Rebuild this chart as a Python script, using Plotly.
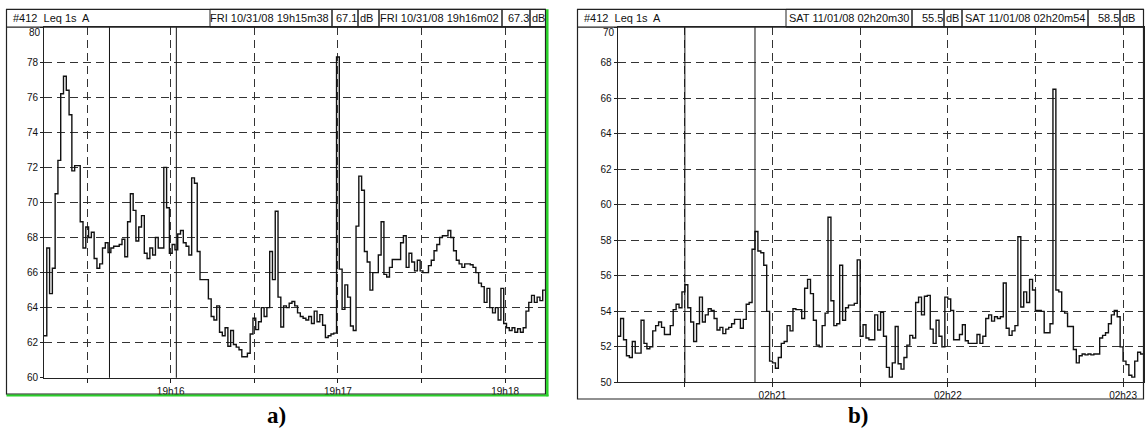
import numpy as np
import plotly.graph_objects as go

W, H = 1145, 441

# Leq 1 s (A-weighted, dB), one value per second
level_a = [
    62.4, 67.4, 64.8, 66.25, 70.5, 72.4, 76.2, 77.2, 76.4, 75.0,
    71.8, 72.1, 72.1, 68.9, 67.4, 68.6, 68.0, 68.3, 66.8, 66.25,
    66.5, 67.4, 67.7, 67.15, 67.4, 67.5, 67.5, 67.6, 67.9, 66.9,
    68.9, 70.5, 69.55, 67.8, 68.6, 69.25, 67.1, 66.8, 67.4, 67.0,
    68.0, 67.4, 67.4, 72.0, 69.7, 67.1, 67.6, 67.3, 68.2, 68.4,
    67.7, 67.5, 67.0, 71.4, 71.1, 67.2, 65.6, 65.6, 65.6, 64.5,
    63.5, 63.3, 64.1, 62.6, 62.4, 62.85, 61.8, 62.7, 61.9, 61.75,
    61.6, 61.2, 61.2, 61.4, 62.5, 63.4, 62.75, 63.2, 64.0, 63.5,
    64.0, 67.2, 65.6, 69.5, 64.6, 62.9, 64.1, 64.0, 64.25, 64.35,
    64.1, 63.7, 63.5, 63.4, 63.3, 63.5, 63.1, 63.8, 63.2, 63.6,
    63.0, 62.3, 62.4, 62.5, 62.55, 78.3, 66.2, 63.9, 65.3, 64.6,
    62.95, 62.7, 68.65, 71.5, 70.7, 67.2, 66.6, 65.0, 66.0, 66.0,
    67.0, 68.9, 65.9, 65.75, 66.3, 66.75, 66.75, 66.75, 67.7, 68.1,
    66.3, 67.1, 66.6, 66.1, 66.7, 66.1, 66.0, 66.0, 66.4, 66.7,
    67.25, 67.6, 68.0, 68.1, 68.1, 68.4, 68.0, 67.25, 66.7, 66.5,
    66.3, 66.5, 66.5, 66.45, 66.3, 66.0, 65.4, 65.2, 64.3, 65.1,
    64.0, 63.7, 64.0, 63.3, 65.1, 63.1, 62.85, 62.7, 62.85, 62.6,
    62.8, 62.6, 62.85, 63.8, 64.3, 64.7, 64.3, 64.6, 64.4, 65.0,
]
level_b = [
    52.6, 53.6, 52.4, 51.5, 51.4, 52.3, 51.65, 51.65, 53.5, 52.2,
    51.9, 52.0, 52.9, 53.2, 53.4, 53.1, 52.7, 52.7, 53.2, 54.1,
    54.4, 54.2, 55.1, 55.5, 54.2, 53.4, 52.3, 53.3, 54.8, 53.4,
    53.8, 54.15, 54.05, 53.6, 52.95, 53.1, 52.75, 53.0, 53.1, 53.3,
    53.55, 53.55, 53.05, 53.55, 54.4, 54.5, 57.5, 58.5, 57.4, 57.3,
    56.6, 54.0, 51.2, 51.1, 50.8, 51.4, 52.2, 52.3, 53.2, 52.9,
    54.15, 54.1, 54.1, 53.6, 55.3, 55.8, 55.0, 53.5, 52.1, 52.0,
    53.2, 53.9, 59.3, 54.6, 53.2, 53.3, 56.6, 53.5, 54.2, 54.35,
    54.35, 54.45, 56.9, 52.6, 53.25, 52.5, 52.4, 52.4, 53.8, 52.95,
    53.95, 52.6, 50.85, 50.3, 51.1, 53.15, 51.05, 50.75, 51.4, 52.1,
    52.65, 52.5, 54.5, 54.8, 53.8, 54.85, 54.9, 53.0, 52.2, 53.5,
    52.6, 52.0, 54.8, 54.7, 54.05, 52.4, 52.4, 52.7, 53.25, 52.35,
    52.2, 52.2, 52.2, 52.7, 52.2, 52.6, 53.6, 53.8, 53.45, 53.7,
    53.6, 53.7, 55.6, 53.05, 52.65, 52.9, 53.2, 58.2, 54.25, 55.1,
    54.5, 55.8, 55.2, 54.05, 54.05, 54.0, 52.8, 52.8, 53.3, 66.5,
    55.2, 55.1, 54.0, 53.9, 53.15, 53.15, 51.85, 51.1, 51.5, 51.6,
    51.55, 51.6, 51.55, 51.6, 51.6, 52.5, 52.65, 52.8, 53.3, 53.8,
    54.05, 53.7, 52.0, 51.2, 51.0, 50.4, 50.3, 51.2, 51.7, 51.6,
]

# time of the first sample, in seconds after the minute shown in the title row
start_a = 14.5   # after 19h15m00
start_b = 7.0    # after 02h20m00

# the two cursors of each record
cursor_s_a = [38, 62]
cursor_s_b = [30, 54]
cursor_lbl_a = ["FRI 10/31/08 19h15m38", "FRI 10/31/08 19h16m02"]
cursor_lbl_b = ["SAT 11/01/08 02h20m30", "SAT 11/01/08 02h20m54"]
cursor_db_a = ["67.1", "67.3"]
cursor_db_b = ["55.5", "58.5"]

tick_s = [30, 60, 90, 120, 150, 180]
tick_lbl_a = ["", "19h16", "", "19h17", "", "19h18"]
tick_lbl_b = ["", "02h21", "", "02h22", "", "02h23"]
yrange_a = [60, 80]
yrange_b = [50, 70]
title_row = "#412  Leq 1s  A"
panel_tags = ["a)", "b)"]

SANS = "Liberation Sans, Arial, sans-serif"
SERIF = "Liberation Serif, Times New Roman, serif"
INK = "#111111"


def fx(px):
    return px / W


def fy(py):
    return 1 - py / H


fig = go.Figure()

panels = [
    dict(levels=level_a, start=start_a, yr=yrange_a, ticks=tick_lbl_a,
         cur=cursor_s_a, lbl=cursor_lbl_a, db=cursor_db_a,
         box=(6.5, 545.5, 9.5, 399.5), plot=(44, 545.5, 27.5, 383),
         hdr=[(210, 332), (332, 358), (358, 379), (379, 502), (502, 530), (530, 545.5)],
         tag_x=276, green=True),
    dict(levels=level_b, start=start_b, yr=yrange_b, ticks=tick_lbl_b,
         cur=cursor_s_b, lbl=cursor_lbl_b, db=cursor_db_b,
         box=(577.5, 1143.5, 9.5, 404.5), plot=(617.7, 1143.5, 27.5, 387.7),
         hdr=[(786, 912), (912, 944), (944, 962), (962, 1088), (1088, 1120), (1120, 1143.5)],
         tag_x=858, green=False),
]

shapes = []
annotations = []

for k, p in enumerate(panels):
    sfx = "" if k == 0 else str(k + 1)
    xa, ya = "x" + sfx, "y" + sfx
    vals = np.asarray(p["levels"], dtype=float)
    t = p["start"] + np.arange(len(vals) + 1)
    y = np.append(vals, vals[-1])

    fig.add_trace(go.Scatter(
        x=t, y=y, mode="lines", line=dict(shape="hv", color=INK, width=1.4),
        xaxis=xa, yaxis=ya, showlegend=False, hoverinfo="skip"))

    x0, x1, y0, y1 = p["plot"]
    ylo, yhi = p["yr"]
    yt = list(range(ylo, yhi + 1, 2))
    # the top value is written a little lower, clear of the title row
    ytxt = [str(v) if v != yhi else "" for v in yt]
    axis_common = dict(showline=True, linecolor="#222222", linewidth=1, mirror=True,
                       ticks="outside", ticklen=4, tickcolor="#222222",
                       showgrid=True, gridcolor="#333333", gridwidth=1.3,
                       griddash="8px,5px", zeroline=False,
                       tickfont=dict(family=SANS, size=10, color=INK))
    fig.update_layout(**{
        "xaxis" + sfx: dict(axis_common, domain=[fx(x0), fx(x1)], anchor=ya,
                             range=[p["start"], p["start"] + len(vals)],
                             tickmode="array", tickvals=tick_s, ticktext=p["ticks"]),
        "yaxis" + sfx: dict(axis_common, domain=[fy(y1), fy(y0)], anchor=xa,
                             range=p["yr"], tickmode="array", tickvals=yt, ticktext=ytxt,
                             ticklen=3),
    })
    annotations.append(dict(text=str(yhi), xref="paper", yref="paper",
                            x=fx(x0 - 1), y=fy(y0 + 5), xanchor="right", yanchor="middle",
                            showarrow=False, font=dict(family=SANS, size=10, color=INK)))

    # cursor lines
    for c in p["cur"]:
        shapes.append(dict(type="line", xref=xa, yref=ya + " domain", x0=c, x1=c, y0=0, y1=1,
                           line=dict(color=INK, width=1)))

    # outer frame and title row
    bx0, bx1, by0, by1 = p["box"]
    shapes.append(dict(type="rect", xref="paper", yref="paper",
                       x0=fx(bx0), x1=fx(bx1), y0=fy(by1), y1=fy(by0),
                       line=dict(color="#222222", width=1.2)))
    shapes.append(dict(type="line", xref="paper", yref="paper",
                       x0=fx(bx0), x1=fx(bx1), y0=fy(y0), y1=fy(y0),
                       line=dict(color="#222222", width=1.2)))
    for hx0, hx1 in p["hdr"]:
        shapes.append(dict(type="rect", xref="paper", yref="paper",
                           x0=fx(hx0), x1=fx(hx1), y0=fy(y0), y1=fy(by0),
                           line=dict(color="#222222", width=1)))

    hy = fy((by0 + y0) / 2)
    annotations.append(dict(text=title_row, xref="paper", yref="paper", x=fx(bx0 + 4), y=hy,
                            xanchor="left", yanchor="middle", showarrow=False,
                            font=dict(family=SANS, size=11, color=INK)))
    h = p["hdr"]
    for j in range(2):
        bl, bv, bu = h[3 * j], h[3 * j + 1], h[3 * j + 2]
        annotations.append(dict(text=p["lbl"][j], xref="paper", yref="paper",
                                x=fx(bl[1] - 1), y=hy, xanchor="right", yanchor="middle",
                                showarrow=False, font=dict(family=SANS, size=11, color=INK)))
        annotations.append(dict(text=p["db"][j], xref="paper", yref="paper",
                                x=fx(bv[1] + 1), y=hy, xanchor="right", yanchor="middle",
                                showarrow=False, font=dict(family=SANS, size=11, color=INK)))
        annotations.append(dict(text="dB", xref="paper", yref="paper",
                                x=fx(bu[0]), y=hy, xanchor="left", yanchor="middle",
                                showarrow=False, font=dict(family=SANS, size=11, color=INK)))

    if p["green"]:
        shapes.append(dict(type="line", xref="paper", yref="paper",
                           x0=fx(547.3), x1=fx(547.3), y0=fy(401.8), y1=fy(9.5),
                           line=dict(color="#2ad12a", width=2.5)))
        shapes.append(dict(type="line", xref="paper", yref="paper",
                           x0=fx(bx0), x1=fx(548.5), y0=fy(401), y1=fy(401),
                           line=dict(color="#2ad12a", width=2)))

    annotations.append(dict(text="<b>" + panel_tags[k] + "</b>", xref="paper", yref="paper",
                            x=fx(p["tag_x"]), y=fy(421), xanchor="center", yanchor="middle",
                            showarrow=False, font=dict(family=SERIF, size=23, color="#000000")))

fig.update_layout(width=W, height=H, margin=dict(l=0, r=0, t=0, b=0),
                  paper_bgcolor="white", plot_bgcolor="white",
                  shapes=shapes, annotations=annotations)

fig.write_html("out.html")
